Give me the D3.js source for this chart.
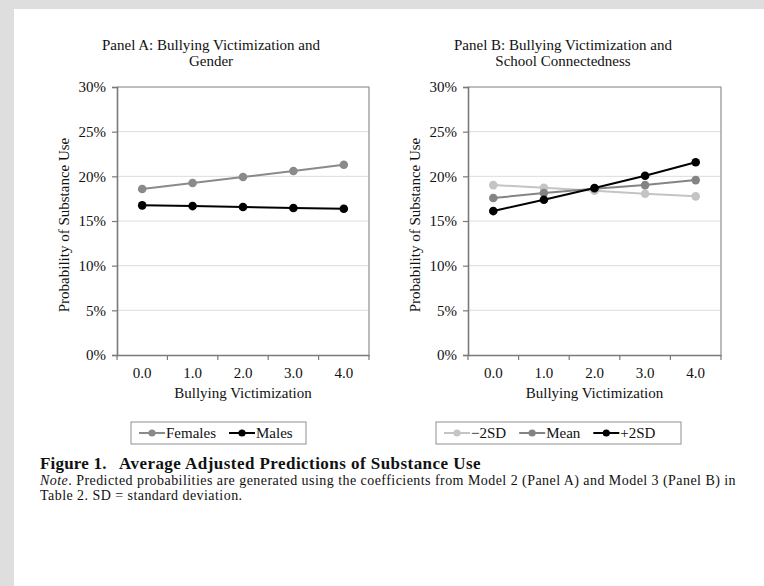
<!DOCTYPE html>
<html>
<head>
<meta charset="utf-8">
<script src="https://cdn.jsdelivr.net/npm/d3@7"></script>
<style>
  html, body { margin: 0; padding: 0; background: #dedede; }
  svg { display: block; }
  text { font-family: "Liberation Serif", "Times New Roman", serif; fill: #111; }
</style>
</head>
<body>
<svg id="chart" width="764" height="586"></svg>
<script>
// ---- data ----
const categories = ["0.0", "1.0", "2.0", "3.0", "4.0"];
const yTickValues = [0, 0.05, 0.10, 0.15, 0.20, 0.25, 0.30];

const females = [0.1858, 0.1925, 0.1992, 0.2060, 0.2130];
const males = [0.1675, 0.1667, 0.1656, 0.1645, 0.1637];

const minus2SD = [0.1902, 0.1872, 0.1839, 0.1805, 0.1776];
const meanSD = [0.1757, 0.1813, 0.1861, 0.1902, 0.1958];
const plus2SD = [0.1611, 0.1738, 0.1869, 0.2007, 0.2157];

const panelATitle = ["Panel A: Bullying Victimization and", "Gender"];
const panelBTitle = ["Panel B: Bullying Victimization and", "School Connectedness"];
const xTitle = "Bullying Victimization";
const yTitle = "Probability of Substance Use";

const panelASeries = [
  { name: "Females", values: females, color: "#8a8a8a" },
  { name: "Males", values: males, color: "#000000" }
];
const panelBSeries = [
  { name: "\u22122SD", values: minus2SD, color: "#c4c4c4" },
  { name: "Mean", values: meanSD, color: "#848484" },
  { name: "+2SD", values: plus2SD, color: "#000000" }
];

// ---- drawing ----
const svg = d3.select("#chart");
svg.append("rect").attr("x", 14).attr("y", 9).attr("width", 750).attr("height", 577).attr("fill", "#ffffff");

function drawPanel(cfg) {
  const g = svg.append("g");
  const x = d3.scaleBand().domain(categories).range([cfg.left, cfg.right]);
  const y = d3.scaleLinear().domain([0, 0.30]).range([355, 87]);

  // gridlines
  g.selectAll(".grid").data(yTickValues.slice(1)).enter().append("line")
    .attr("x1", cfg.left).attr("x2", cfg.right)
    .attr("y1", d => y(d)).attr("y2", d => y(d))
    .attr("stroke", "#dcdcdc").attr("stroke-width", 1);

  // plot border (top & right)
  g.append("path")
    .attr("d", `M${cfg.left},${y(0.30)}H${cfg.right}V${y(0)}`)
    .attr("fill", "none").attr("stroke", "#8f8f8f").attr("stroke-width", 1.2);

  // y axis
  const yAxis = d3.axisLeft(y).tickValues(yTickValues).tickFormat(d3.format(".0%")).tickSize(5).tickPadding(6);
  const ya = g.append("g").attr("transform", `translate(${cfg.left},0)`).call(yAxis);
  ya.select(".domain").attr("stroke", "#7a7a7a").attr("stroke-width", 1.6);
  ya.selectAll(".tick line").attr("stroke", "#7a7a7a").attr("stroke-width", 1.2);
  ya.selectAll(".tick text").style("font-size", "15px").attr("fill", "#111").style("font-family", "Liberation Serif");

  // x axis
  const xAxis = d3.axisBottom(x).tickSize(0).tickPadding(12);
  const xa = g.append("g").attr("transform", `translate(0,${y(0)})`).call(xAxis);
  xa.select(".domain").attr("stroke", "#7a7a7a").attr("stroke-width", 1.6);
  xa.selectAll(".tick text").style("font-size", "15px").attr("fill", "#111").style("font-family", "Liberation Serif");
  // tick marks at band boundaries
  const bounds = categories.map(c => x(c)).concat([cfg.right]);
  g.selectAll(".xtick").data(bounds).enter().append("line")
    .attr("x1", d => d).attr("x2", d => d)
    .attr("y1", y(0)).attr("y2", y(0) + 5)
    .attr("stroke", "#7a7a7a").attr("stroke-width", 1.2);

  // titles
  const tt = g.append("text").attr("text-anchor", "middle").style("font-size", "15px");
  cfg.title.forEach((t, i) => {
    tt.append("tspan").attr("x", cfg.titleX).attr("y", 50 + i * 16).text(t);
  });
  g.append("text").attr("x", (cfg.left + cfg.right) / 2).attr("y", 398)
    .attr("text-anchor", "middle").style("font-size", "15px").text(xTitle);
  g.append("text").attr("transform", `translate(${cfg.left - 48},${(y(0) + y(0.30)) / 2 + 4}) rotate(-90)`)
    .attr("text-anchor", "middle").style("font-size", "15px").text(yTitle);

  // series
  const line = d3.line().x((d, i) => x(categories[i]) + x.bandwidth() / 2).y(d => y(d));
  cfg.series.forEach(s => {
    g.append("path").attr("d", line(s.values)).attr("fill", "none")
      .attr("stroke", s.color).attr("stroke-width", 2);
    g.selectAll(null).data(s.values).enter().append("circle")
      .attr("cx", (d, i) => x(categories[i]) + x.bandwidth() / 2)
      .attr("cy", d => y(d)).attr("r", 4.3).attr("fill", s.color);
  });

  // legend
  const lg = g.append("g");
  lg.append("rect").attr("x", cfg.legX).attr("y", 422).attr("width", cfg.legW).attr("height", 22)
    .attr("fill", "#fff").attr("stroke", "#8f8f8f").attr("stroke-width", 1);
  let cx = cfg.legX + 8;
  cfg.series.forEach(s => {
    lg.append("line").attr("x1", cx).attr("x2", cx + 26).attr("y1", 433).attr("y2", 433)
      .attr("stroke", s.color).attr("stroke-width", 2);
    lg.append("circle").attr("cx", cx + 13).attr("cy", 433).attr("r", 3.6).attr("fill", s.color);
    const t = lg.append("text").attr("x", cx + 27).attr("y", 438).style("font-size", "15px").text(s.name);
    cx += 27 + t.node().getComputedTextLength() + 13;
  });
}

drawPanel({ left: 117, right: 369, title: panelATitle, titleX: 211, series: panelASeries, legX: 131, legW: 175 });
drawPanel({ left: 468, right: 721, title: panelBTitle, titleX: 563, series: panelBSeries, legX: 436, legW: 245 });

// caption
const cap = svg.append("g");
cap.append("text").attr("x", 40).attr("y", 469).style("font-size", "17px").style("font-weight", "bold")
  .style("letter-spacing", "0.2px").text("Figure 1.");
cap.append("text").attr("x", 119).attr("y", 469).style("font-size", "17px").style("font-weight", "bold")
  .style("letter-spacing", "0.45px").text("Average Adjusted Predictions of Substance Use");
const c2 = cap.append("text").attr("x", 40).attr("y", 485).style("font-size", "14px").style("letter-spacing", "0.45px");
c2.append("tspan").style("font-style", "italic").text("Note");
c2.append("tspan").text(". Predicted probabilities are generated using the coefficients from Model 2 (Panel A) and Model 3 (Panel B) in");
cap.append("text").attr("x", 40).attr("y", 500).style("font-size", "14px").style("letter-spacing", "0.45px")
  .text("Table 2. SD = standard deviation.");
</script>
</body>
</html>
